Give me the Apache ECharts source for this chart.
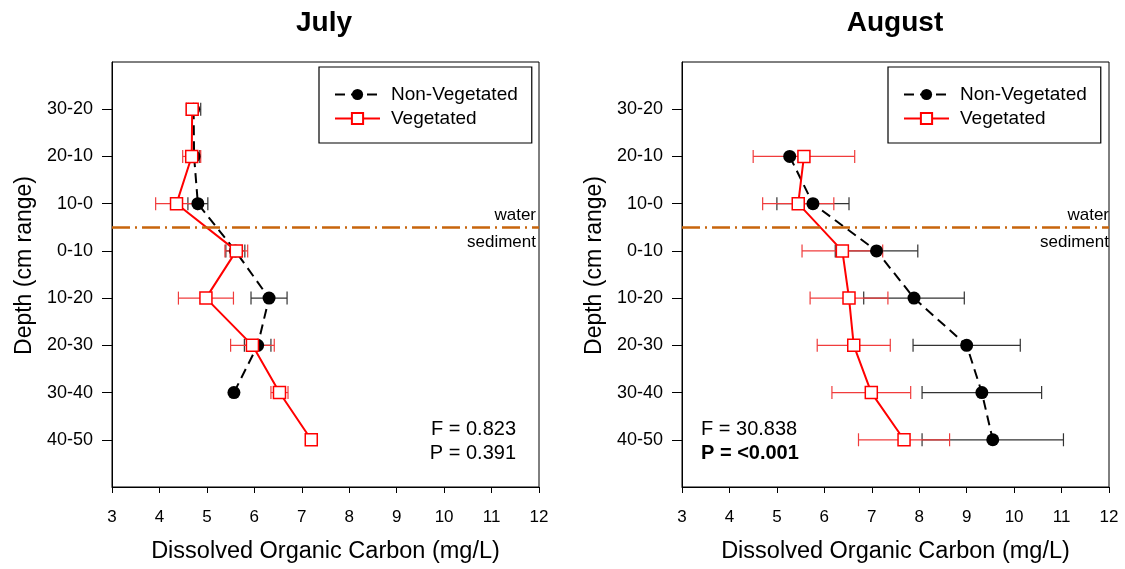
<!DOCTYPE html>
<html>
<head>
<meta charset="utf-8">
<script src="https://cdn.jsdelivr.net/npm/echarts@6/dist/echarts.min.js"></script>
<style>
  html, body { margin: 0; padding: 0; background: #fff; }
  #chart { width: 1125px; height: 569px; }
</style>
</head>
<body>
<div id="chart"></div>
<script>
// depth classes, top (water column) to bottom (sediment)
var depths = ['30-20', '20-10', '10-0', '0-10', '10-20', '20-30', '30-40', '40-50'];
var xTicks = [3, 4, 5, 6, 7, 8, 9, 10, 11, 12];

// July: [depth index, mean DOC, error]
var julyNonVeg = [[0, 4.72, 0.15], [1, 4.73, 0.12], [2, 4.81, 0.21], [3, 5.60, 0.20],
                  [4, 6.31, 0.38], [5, 6.07, 0.28], [6, 5.57, 0]];
var julyVeg    = [[0, 4.69, 0.08], [1, 4.68, 0.19], [2, 4.36, 0.44], [3, 5.62, 0.24],
                  [4, 4.98, 0.58], [5, 5.96, 0.46], [6, 6.53, 0.18], [7, 7.20, 0]];

// August
var augNonVeg  = [[1, 5.27, 0], [2, 5.76, 0.76], [3, 7.10, 0.87], [4, 7.89, 1.06],
                  [5, 9.00, 1.13], [6, 9.32, 1.26], [7, 9.55, 1.49]];
var augVeg     = [[1, 5.57, 1.07], [2, 5.45, 0.75], [3, 6.38, 0.85], [4, 6.52, 0.82],
                  [5, 6.62, 0.77], [6, 6.99, 0.83], [7, 7.68, 0.96]];

var waterLevel = 2.5;
var stats = { july: ['F = 0.823', 'P = 0.391'], august: ['F = 30.838', 'P = <0.001'] };

var FONT = "'Liberation Sans', Arial, sans-serif";
var chart = echarts.init(document.getElementById('chart'));

function pts(rows) { return rows.map(function (r) { return [r[1], r[0]]; }); }
function errs(rows) { return rows.filter(function (r) { return r[2] > 0; }).map(function (r) { return [r[1], r[0], r[2]]; }); }

function errorSeries(rows, idx, color) {
  return {
    type: 'custom', xAxisIndex: idx, yAxisIndex: idx, z: 2, silent: true,
    data: errs(rows),
    encode: { x: 0, y: 1 },
    renderItem: function (params, api) {
      var y = api.value(1), v = api.value(0), e = api.value(2);
      var lo = api.coord([v - e, y]), hi = api.coord([v + e, y]);
      var h = 6.5;
      var st = { stroke: color, lineWidth: 1.2 };
      return { type: 'group', children: [
        { type: 'line', shape: { x1: lo[0], y1: lo[1], x2: hi[0], y2: hi[1] }, style: st },
        { type: 'line', shape: { x1: lo[0], y1: lo[1] - h, x2: lo[0], y2: lo[1] + h }, style: st },
        { type: 'line', shape: { x1: hi[0], y1: hi[1] - h, x2: hi[0], y2: hi[1] + h }, style: st }
      ]};
    }
  };
}

function nonVegLine(rows, idx) {
  return {
    name: 'Non-Vegetated', type: 'line', xAxisIndex: idx, yAxisIndex: idx, z: 3,
    data: pts(rows), symbol: 'circle', symbolSize: 13,
    lineStyle: { color: '#000', width: 2, type: [10, 6] },
    itemStyle: { color: '#000' },
    markLine: {
      silent: true, symbol: 'none', label: { show: false },
      lineStyle: { color: '#c8650c', width: 2.5, type: [18, 5, 2, 5] },
      data: [{ yAxis: waterLevel }]
    }
  };
}

function vegLine(rows, idx) {
  return {
    name: 'Vegetated', type: 'line', xAxisIndex: idx, yAxisIndex: idx, z: 4,
    data: pts(rows), symbol: 'rect', symbolSize: 12,
    lineStyle: { color: '#ff0000', width: 2 },
    itemStyle: { color: '#fff', borderColor: '#ff0000', borderWidth: 1.5 }
  };
}

function grid(left) {
  return {
    left: left, top: 62, width: 427, height: 425, show: true, borderColor: '#000', borderWidth: 1,
    containLabel: false, outerBoundsMode: 'none'
  };
}

function xAxis(idx) {
  return {
    type: 'value', gridIndex: idx, min: xTicks[0], max: xTicks[xTicks.length - 1], interval: 1,
    name: 'Dissolved Organic Carbon (mg/L)', nameLocation: 'middle', nameGap: 53,
    nameTextStyle: { fontSize: 23.5, color: '#000', fontFamily: FONT },
    axisLine: { onZero: false, lineStyle: { color: '#000', width: 1 } },
    axisTick: { show: true, length: 6, lineStyle: { color: '#000' } },
    axisLabel: { fontSize: 17, color: '#000', fontFamily: FONT, margin: 22 },
    splitLine: { show: false }
  };
}

function yAxis(idx) {
  var vals = depths.map(function (d, i) { return i; });
  return {
    type: 'value', gridIndex: idx, inverse: true, min: -1, max: 8, interval: 1,
    name: 'Depth (cm range)', nameLocation: 'middle', nameGap: 76,
    nameTextStyle: { fontSize: 23, color: '#000', fontFamily: FONT, padding: [0, 0, 0, 18] },
    axisLine: { onZero: false, lineStyle: { color: '#000', width: 1 } },
    axisTick: { show: true, length: 10, customValues: vals, lineStyle: { color: '#000' } },
    axisLabel: {
      fontSize: 18, color: '#000', fontFamily: FONT, margin: 19, customValues: vals,
      formatter: function (v) { return depths[v] || ''; }
    },
    splitLine: { show: false }
  };
}

function legend(left) {
  return {
    left: left, top: 67, orient: 'vertical', itemWidth: 45, itemHeight: 14, itemGap: 5,
    padding: [18, 14, 15, 15], borderColor: '#000', borderWidth: 1.2,
    data: ['Non-Vegetated', 'Vegetated'],
    textStyle: { fontSize: 19, color: '#000', fontFamily: FONT, padding: [0, 0, 0, 6] }
  };
}

var option = {
  animation: false,
  backgroundColor: '#fff',
  title: [
    { text: 'July', left: 319, top: 4, textAlign: 'center', textStyle: { fontSize: 28, fontWeight: 'bold', color: '#000', fontFamily: FONT } },
    { text: 'August', left: 890, top: 4, textAlign: 'center', textStyle: { fontSize: 28, fontWeight: 'bold', color: '#000', fontFamily: FONT } }
  ],
  grid: [grid(112), grid(682)],
  xAxis: [xAxis(0), xAxis(1)],
  yAxis: [yAxis(0), yAxis(1)],
  legend: [legend(319), legend(888)],
  series: [
    errorSeries(julyNonVeg, 0, '#333'),
    errorSeries(julyVeg, 0, '#f03c3c'),
    nonVegLine(julyNonVeg, 0),
    vegLine(julyVeg, 0),
    errorSeries(augNonVeg, 1, '#333'),
    errorSeries(augVeg, 1, '#f03c3c'),
    nonVegLine(augNonVeg, 1),
    vegLine(augVeg, 1)
  ],
  graphic: [
    { type: 'text', right: 1125 - 536, top: 207, style: { text: 'water', fill: '#000', font: '17px ' + FONT } },
    { type: 'text', right: 1125 - 536, top: 234, style: { text: 'sediment', fill: '#000', font: '17px ' + FONT } },
    { type: 'text', right: 1125 - 1109, top: 207, style: { text: 'water', fill: '#000', font: '17px ' + FONT } },
    { type: 'text', right: 1125 - 1109, top: 234, style: { text: 'sediment', fill: '#000', font: '17px ' + FONT } },
    { type: 'text', right: 1125 - 516, top: 419, style: { text: stats.july[0], fill: '#000', font: '20px ' + FONT } },
    { type: 'text', right: 1125 - 516, top: 443, style: { text: stats.july[1], fill: '#000', font: '20px ' + FONT } },
    { type: 'text', left: 701, top: 419, style: { text: stats.august[0], fill: '#000', font: '20px ' + FONT } },
    { type: 'text', left: 701, top: 443, style: { text: stats.august[1], fill: '#000', font: 'bold 20px ' + FONT } }
  ]
};

chart.setOption(option);
window.addEventListener('resize', chart.resize);
</script>
</body>
</html>
